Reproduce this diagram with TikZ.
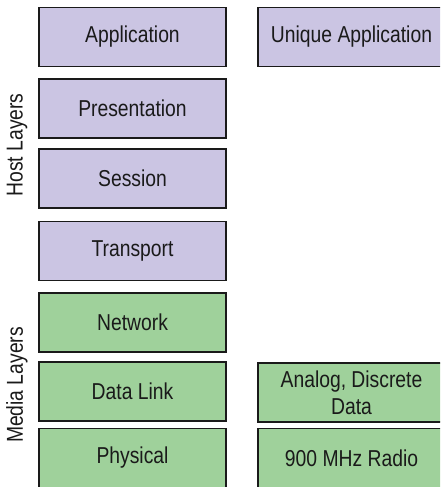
\documentclass[tikz,border=0pt]{standalone}
\usepackage{fontspec}
\setmainfont{Liberation Sans}[FakeStretch=0.84]
\definecolor{hostfill}{HTML}{CBC5E3}
\definecolor{mediafill}{HTML}{9FD19B}
\definecolor{ink}{HTML}{1A1A1A}
\begin{document}
\begin{tikzpicture}[x=1pt,y=-1pt,
  layerbox/.style={draw=ink, line width=1.6pt, minimum width=187pt, minimum height=59pt,
    inner sep=0pt, text=ink, align=center, font=\fontsize{23}{27}\selectfont},
  host/.style={layerbox, fill=hostfill},
  media/.style={layerbox, fill=mediafill},
  sidelabel/.style={rotate=90, text=ink, font=\fontsize{23}{27}\selectfont, inner sep=0pt}]
\useasboundingbox (0,0) rectangle (440,487);
\clip (0,0) rectangle (440,487);
\fill[white] (0,0) rectangle (440,487);
% left column
\node[host]  (app)   at (132.5,37)   {Application};
\node[host]  (pres)  at (132.5,108.5) {Presentation};
\node[host]  (sess)  at (132.5,178.5) {Session};
\node[host]  (trans) at (132.5,251)  {Transport};
\node[media] (net)   at (132.5,322.5) {Network};
\node[media] (dl)    at (132.5,391.5) {Data Link};
\node[media] (phys)  at (132.5,458)  {Physical};
% right column
\node[host]  (uapp)  at (351.5,37)   {Unique Application};
\node[media] (adata) at (351.5,392.5) {Analog, Discrete\\Data};
\node[media] (radio) at (351.5,458)  {900 MHz Radio};
% side labels
\node[sidelabel] (hostl)  at (17,145) {Host Layers};
\node[sidelabel] (medial) at (17,385) {Media Layers};
\end{tikzpicture}
\end{document}
